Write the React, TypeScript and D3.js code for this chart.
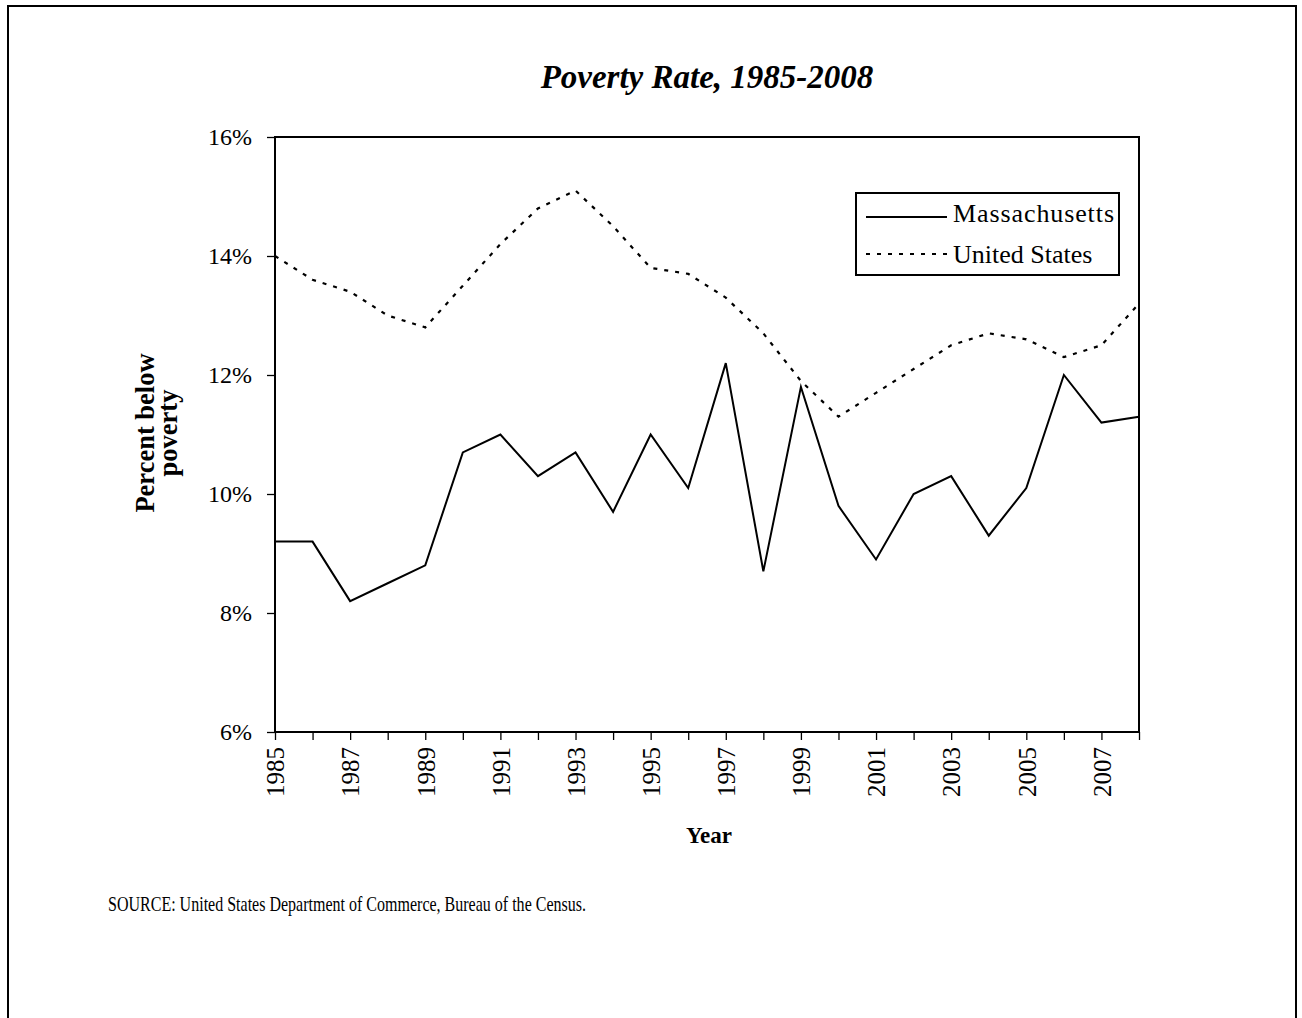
import React, { useEffect, useRef } from 'react';
import * as d3 from 'd3';

// data (percent below poverty)
const years = [1985, 1986, 1987, 1988, 1989, 1990, 1991, 1992, 1993, 1994, 1995, 1996,
  1997, 1998, 1999, 2000, 2001, 2002, 2003, 2004, 2005, 2006, 2007, 2008];
const massachusetts = [9.2, 9.2, 8.2, 8.5, 8.8, 10.7, 11.0, 10.3, 10.7, 9.7, 11.0, 10.1,
  12.2, 8.7, 11.8, 9.8, 8.9, 10.0, 10.3, 9.3, 10.1, 12.0, 11.2, 11.3];
const unitedStates = [14.0, 13.6, 13.4, 13.0, 12.8, 13.5, 14.2, 14.8, 15.1, 14.5, 13.8, 13.7,
  13.3, 12.7, 11.9, 11.3, 11.7, 12.1, 12.5, 12.7, 12.6, 12.3, 12.5, 13.2];
const yTicks = [6, 8, 10, 12, 14, 16];
const seriesNames = ['Massachusetts', 'United States'];

const W = 1302;
const H = 1018;
const PLOT = { left: 275, right: 1139, top: 137, bottom: 732 };
const FONT = '"Liberation Serif", "Times New Roman", serif';
const DOTS = '4 7';

const App = () => {
  const yAxisRef = useRef(null);
  const xAxisRef = useRef(null);

  const x = d3.scaleLinear().domain([years[0], years[years.length - 1]]).range([PLOT.left, PLOT.right]);
  const y = d3.scaleLinear().domain([6, 16]).range([PLOT.bottom, PLOT.top]);

  const line = d3.line<number>()
    .x((_, i) => x(years[i]))
    .y(d => y(d));

  useEffect(() => {
    const ya = d3.select(yAxisRef.current);
    ya.selectAll('*').remove();
    ya.call(
      d3.axisLeft(y).tickValues(yTicks).tickSize(8).tickPadding(15).tickFormat(d => `${d}%`)
    );
    ya.select('.domain').remove();
    ya.selectAll('.tick line').attr('stroke', '#000').attr('stroke-width', 1.3);
    ya.selectAll('.tick text')
      .attr('fill', '#000')
      .style('font-family', FONT)
      .style('font-size', '24px');

    const xa = d3.select(xAxisRef.current);
    xa.selectAll('*').remove();
    xa.call(
      d3.axisBottom(x).tickValues(years).tickSize(8).tickFormat(d => ((+d) % 2 === 1 ? String(d) : ''))
    );
    xa.select('.domain').remove();
    xa.selectAll('.tick line').attr('stroke', '#000').attr('stroke-width', 1.3);
    xa.selectAll('.tick text')
      .attr('fill', '#000')
      .attr('transform', 'rotate(-90)')
      .attr('x', -15)
      .attr('y', 0)
      .attr('dy', '0.35em')
      .attr('text-anchor', 'end')
      .style('font-family', FONT)
      .style('font-size', '25px');
  }, []);

  return (
    <div style={{ position: 'absolute', left: 0, top: 0 }}>
      <svg width={W} height={H} style={{ display: 'block', background: '#fff' }}>
        {/* outer frame */}
        <rect x={8} y={6} width={1288} height={1040} fill="none" stroke="#000" strokeWidth={2} />

        <text x={(PLOT.left + PLOT.right) / 2} y={88} textAnchor="middle"
          style={{ fontFamily: FONT, fontSize: 33, fontWeight: 'bold', fontStyle: 'italic' }}>
          Poverty Rate, 1985-2008
        </text>

        <g ref={yAxisRef} transform={`translate(${PLOT.left},0)`} />
        <g ref={xAxisRef} transform={`translate(0,${PLOT.bottom})`} />

        <path d={line(unitedStates) || ''} fill="none" stroke="#000" strokeWidth={2.2} strokeDasharray={DOTS} />
        <path d={line(massachusetts) || ''} fill="none" stroke="#000" strokeWidth={2} strokeLinejoin="miter" />

        <rect x={PLOT.left} y={PLOT.top} width={PLOT.right - PLOT.left} height={PLOT.bottom - PLOT.top}
          fill="none" stroke="#000" strokeWidth={2} />

        {/* legend */}
        <g>
          <rect x={856} y={193} width={263} height={82} fill="#fff" stroke="#000" strokeWidth={2} />
          <line x1={866} x2={947} y1={217} y2={217} stroke="#000" strokeWidth={2} />
          <line x1={866} x2={947} y1={254} y2={254} stroke="#000" strokeWidth={2.2} strokeDasharray={DOTS} />
          <text x={953} y={222} textLength={161} lengthAdjust="spacing"
            style={{ fontFamily: FONT, fontSize: 26 }}>{seriesNames[0]}</text>
          <text x={953} y={263} style={{ fontFamily: FONT, fontSize: 26 }}>{seriesNames[1]}</text>
        </g>

        {/* axis titles */}
        <text transform="translate(154,433) rotate(-90)" textAnchor="middle"
          style={{ fontFamily: FONT, fontSize: 26.5, fontWeight: 'bold' }}>
          <tspan x={0} y={0}>Percent below</tspan>
          <tspan x={0} y={23}>poverty</tspan>
        </text>
        <text x={709} y={843} textAnchor="middle"
          style={{ fontFamily: FONT, fontSize: 23, fontWeight: 'bold' }}>Year</text>

        <text x={108} y={911} textLength={478} lengthAdjust="spacingAndGlyphs"
          style={{ fontFamily: FONT, fontSize: 22 }}>
          SOURCE:  United States Department of Commerce, Bureau of the Census.
        </text>
      </svg>
    </div>
  );
};

export default App;
